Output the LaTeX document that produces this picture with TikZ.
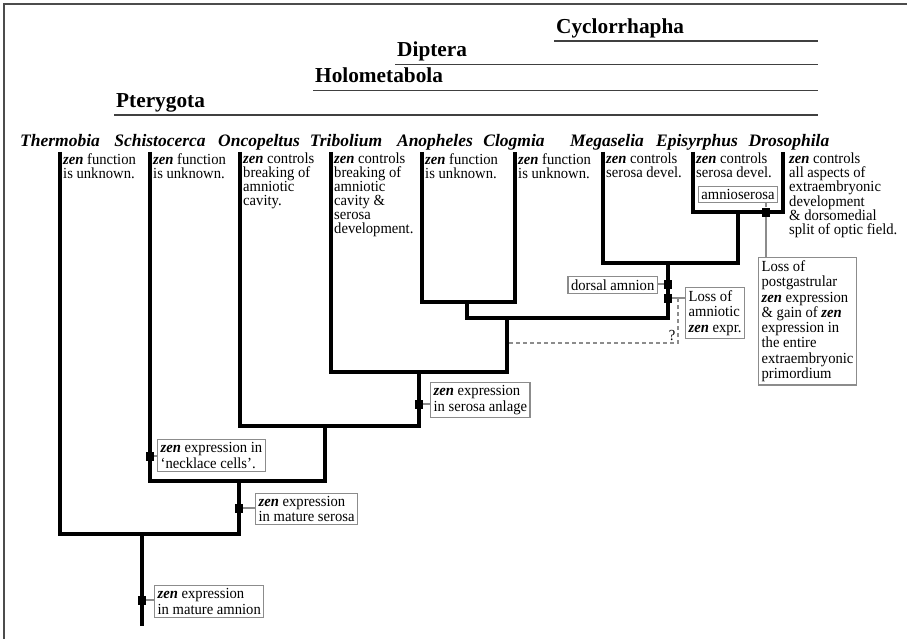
\documentclass[tikz,border=0pt]{standalone}
\usepackage{fontspec}
\setmainfont{Liberation Serif}
\newfontfamily\notefont[Ligatures=TeX,FakeStretch=0.95]{Liberation Serif}
\usepackage{tikz}
\usetikzlibrary{calc}

\newcommand{\zen}{\textbf{\textit{zen}}}

\begin{document}
\begin{tikzpicture}[x=1pt,y=-1pt,
		clade/.style={
			font=\fontsize{21.3}{24}\selectfont\bfseries,anchor=base west,inner sep=0pt
		},
		cladeline/.style={draw=black!75,line width=1.8pt},
		species/.style={
			font=\fontsize{17.5}{19}\selectfont\bfseries\itshape,anchor=base,inner sep=0pt
		},
		note/.style={
			font=\notefont\fontsize{15.4}{14}\selectfont,align=left,anchor=north west,inner sep=0pt
		},
		branch/.style={line width=3.2pt},
		event/.style={fill=black,minimum width=8pt,minimum height=9pt,inner sep=0pt},
		evbox/.style={
			draw=black!45,line width=1.3pt,font=\notefont\fontsize{15.4}{15.3}\selectfont,
			align=left,inner xsep=3pt,inner ysep=3pt
		},
		link/.style={draw=black!45,line width=1.2pt},
		query/.style={draw=black!45,line width=1.2pt,dash pattern=on 4pt off 3pt}
		]
		\useasboundingbox (0,0) rectangle (907,639);
		\draw[black!70,line width=2pt] (4,639) -- (4,4) -- (907,4);
		
		% clades
		\coordinate (rim) at (818,0);
		\node[clade] (cCyc) at (556,33.5) {Cyclorrhapha};
		\node[clade] (cDip) at (397,57) {Diptera};
		\node[clade] (cHolo) at (315,83) {Holometabola};
		\node[clade] (cPtery) at (116,107.5) {Pterygota};
		\foreach \c in {cCyc,cDip,cHolo,cPtery}{
			\coordinate (u\c) at ([xshift=-2pt,yshift=-7.5pt]\c.base west);
			\draw[cladeline] (u\c) -- (u\c -| rim);
		}
		
		% species
		\node[species] (thermobia) at (60,147) {Thermobia};
		\node[species] (schistocerca) at (160,147) {Schistocerca};
		\node[species] (oncopeltus) at (259,147) {Oncopeltus};
		\node[species] (tribolium) at (346,147) {Tribolium};
		\node[species] (anopheles) at (435,147) {Anopheles};
		\node[species] (clogmia) at (514,147) {Clogmia};
		\node[species] (megaselia) at (607,147) {Megaselia};
		\node[species] (episyrphus) at (697,147) {Episyrphus};
		\node[species] (drosophila) at (789,147) {Drosophila};
		
		% tips
		\coordinate (tThe) at (60,152);
		\coordinate (tSch) at (150,152);
		\coordinate (tOnc) at (240,152);
		\coordinate (tTri) at (331,152);
		\coordinate (tAno) at (422,152);
		\coordinate (tClo) at (515,152);
		\coordinate (tMeg) at (603,152);
		\coordinate (tEpi) at (693,152);
		\coordinate (tDro) at (783,152);
		
		% what zen does
		\node[note] (dThe) at (63,153) {\zen{} function\\is unknown.};
		\node[note] (dSch) at (153,153) {\zen{} function\\is unknown.};
		\node[note] (dOnc) at (243,153) {\zen{} controls\\breaking of\\amniotic\\cavity.};
		\node[note] (dTri) at (334,153) {\zen{} controls\\breaking of\\amniotic\\cavity \&\\serosa\\development.};
		\node[note] (dAno) at (425,153) {\zen{} function\\is unknown.};
		\node[note] (dClo) at (518,153) {\zen{} function\\is unknown.};
		\node[note] (dMeg) at (606,153) {\zen{} controls\\serosa devel.};
		\node[note] (dEpi) at (696,153) {\zen{} controls\\serosa devel.};
		\node[note] (dDro) at (789,153) {\zen{} controls\\all aspects of\\extraembryonic\\development\\\& dorsomedial\\split of optic field.};
		
		% forks
		\coordinate (n1) at (738,212);
		\coordinate (n2) at (668,263);
		\coordinate (n3) at (467,302);
		\coordinate (n4) at (507,318);
		\coordinate (n5) at (419,372);
		\coordinate (n6) at (325,426);
		\coordinate (n7) at (239,481);
		\coordinate (n8) at (142,534);
		\coordinate (root) at (142,626);
		
		\draw[branch] (tEpi) |- (n1) -| (tDro);
		\draw[branch] (tMeg) |- (n2) -| (n1);
		\draw[branch] (tAno) |- (n3) -| (tClo);
		\draw[branch] (n3) |- (n4) -| (n2);
		\draw[branch] (tTri) |- (n5) -| (n4);
		\draw[branch] (tOnc) |- (n6) -| (n5);
		\draw[branch] (tSch) |- (n7) -| (n6);
		\draw[branch] (tThe) |- (n8) -| (n7);
		\draw[branch] (n8) -- (root);
		
		% events
		\node[evbox,anchor=west] (bAmnion) at (154,601.5) {\zen{} expression\\in mature amnion};
		\node[evbox,anchor=west] (bSerosa) at (255,509) {\zen{} expression\\in mature serosa};
		\node[evbox,anchor=west] (bNecklace) at (157,455.5) {\zen{} expression in\\`necklace cells'.};
		\node[evbox,anchor=west] (bAnlage) at (430,400) {\zen{} expression\\in serosa anlage};
		\node[evbox,anchor=east] (bDorsal) at (658,285) {dorsal amnion};
		\node[evbox,anchor=north west] (bLoss) at (685,287) {Loss of\\amniotic\\\zen{} expr.};
		\node[evbox] (bAmnioserosa) at (738,194.5) {amnioserosa};
		\node[evbox,anchor=north west] (bPost) at (758,257) {Loss of\\postgastrular\\\zen{} expression\\\& gain of \zen{}\\expression in\\the entire\\extraembryonic\\primordium};
		
		\node[event] (mAmnion) at (142,600) {};
		\node[event] (mSerosa) at (239,508) {};
		\node[event] (mNecklace) at (150,456) {};
		\node[event] (mAnlage) at (419,404) {};
		\node[event] (mDorsal) at (668,284) {};
		\node[event] (mLoss) at (668,298) {};
		\node[event] (mAmnioserosa) at (766,212) {};
		
		\draw[link] (mAmnion) -- (mAmnion -| bAmnion.west);
		\draw[link] (mSerosa) -- (mSerosa -| bSerosa.west);
		\draw[link] (mNecklace) -- (mNecklace -| bNecklace.west);
		\draw[link] (mAnlage) -- (mAnlage -| bAnlage.west);
		\draw[link] (mDorsal) -- (mDorsal -| bDorsal.east);
		\draw[link] (mLoss) -- (mLoss -| bLoss.west);
		\draw[link] (mAmnioserosa) -- (mAmnioserosa |- bAmnioserosa.south);
		\draw[link] (mAmnioserosa) -- (mAmnioserosa |- bPost.north);
		
		% earlier loss?
		\coordinate (qStart) at (509,343);
		\coordinate (qCorner) at (678,343);
		\draw[query] (qStart) -- (qCorner) -- (qCorner |- mLoss);
		\node[font=\notefont\fontsize{15.4}{15}\selectfont,inner sep=0pt,anchor=base] (qMark) at (672,340) {?};
	\end{tikzpicture}
\end{document}
